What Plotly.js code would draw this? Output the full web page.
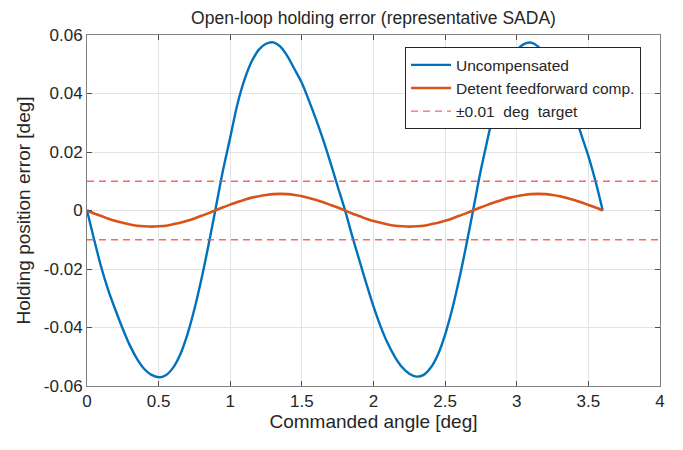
<!DOCTYPE html>
<html>
<head>
<meta charset="utf-8">
<script src="https://cdn.plot.ly/plotly-3.0.1.min.js"></script>
<style>
  html, body { margin: 0; padding: 0; background: #fff; }
  #chart { width: 683px; height: 450px; }
</style>
</head>
<body>
<div id="chart"></div>
<script>
// commanded angle samples [deg]
const angle = [
  0, 0.05, 0.1, 0.15, 0.2, 0.25, 0.3, 0.35, 0.4, 0.45,
  0.5, 0.55, 0.6, 0.65, 0.7, 0.75, 0.8, 0.85, 0.9, 0.95,
  1.0, 1.05, 1.1, 1.15, 1.2, 1.25, 1.3, 1.35, 1.4, 1.45,
  1.5, 1.55, 1.6, 1.65, 1.7, 1.75, 1.8, 1.85, 1.9, 1.95,
  2.0, 2.05, 2.1, 2.15, 2.2, 2.25, 2.3, 2.35, 2.4, 2.45,
  2.5, 2.55, 2.6, 2.65, 2.7, 2.75, 2.8, 2.85, 2.9, 2.95,
  3.0, 3.05, 3.1, 3.15, 3.2, 3.25, 3.3, 3.35, 3.4, 3.45,
  3.5, 3.55, 3.6
];

// holding error without compensation [deg]
const uncompensated = [
  0, -0.0100, -0.0195, -0.0275, -0.0342, -0.0405, -0.0462, -0.0508, -0.0542, -0.0562,
  -0.0570, -0.0563, -0.0538, -0.0493, -0.0425, -0.0337, -0.0232, -0.0114, 0.0012, 0.0139,
  0.0250, 0.0363, 0.0448, 0.0510, 0.0550, 0.0570, 0.0575, 0.0560, 0.0527, 0.0482,
  0.0436, 0.0375, 0.0310, 0.0240, 0.0163, 0.0082, 0.0003, -0.0085, -0.0168, -0.0250,
  -0.0328, -0.0397, -0.0455, -0.0501, -0.0536, -0.0558, -0.0568, -0.0562, -0.0537, -0.0492,
  -0.0424, -0.0336, -0.0231, -0.0113, 0.0013, 0.0140, 0.0252, 0.0362, 0.0448, 0.0510,
  0.0549, 0.0569, 0.0574, 0.0560, 0.0530, 0.0487, 0.0436, 0.0388, 0.0334, 0.0260,
  0.0186, 0.0100, 0
];

// holding error with detent feedforward [deg]
const compensated = [
  0, -0.0010, -0.0019, -0.0028, -0.0036, -0.0042, -0.0048, -0.0052, -0.0054, -0.0055,
  -0.0054, -0.0052, -0.0047, -0.0042, -0.0035, -0.0027, -0.0018, -0.0009, 0.0001, 0.0011,
  0.0020, 0.0029, 0.0037, 0.0044, 0.0049, 0.0053, 0.0056, 0.0057, 0.0056, 0.0053,
  0.0049, 0.0043, 0.0036, 0.0028, 0.0019, 0.0010, 0.0000, -0.0010, -0.0019, -0.0028,
  -0.0036, -0.0042, -0.0048, -0.0052, -0.0054, -0.0055, -0.0054, -0.0052, -0.0047, -0.0042,
  -0.0035, -0.0027, -0.0018, -0.0009, 0.0001, 0.0011, 0.0020, 0.0029, 0.0037, 0.0044,
  0.0049, 0.0053, 0.0056, 0.0057, 0.0056, 0.0053, 0.0049, 0.0043, 0.0036, 0.0028,
  0.0019, 0.0010, 0.0000
];

// +/- target band
const targetSpan = [0, 4];
const targetLevel = 0.01;

const xTicks = [0, 0.5, 1, 1.5, 2, 2.5, 3, 3.5, 4];
const xTickText = ['0', '0.5', '1', '1.5', '2', '2.5', '3', '3.5', '4'];
const yTicks = [-0.06, -0.04, -0.02, 0, 0.02, 0.04, 0.06];
const yTickText = ['-0.06', '-0.04', '-0.02', '0', '0.02', '0.04', '0.06'];

const font = 'Arial, "Liberation Sans", sans-serif';
const ink = '#262626';

const traces = [
  {
    x: angle, y: uncompensated, mode: 'lines', name: 'Uncompensated',
    line: { color: '#0072BD', width: 2.4, shape: 'spline', smoothing: 0.8 }
  },
  {
    x: angle, y: compensated, mode: 'lines', name: 'Detent feedforward comp.',
    line: { color: '#D95319', width: 2.6, shape: 'spline', smoothing: 0.8 }
  },
  {
    x: [targetSpan[0], targetSpan[1], null, targetSpan[0], targetSpan[1]],
    y: [targetLevel, targetLevel, null, -targetLevel, -targetLevel],
    mode: 'lines', name: '±0.01\u00a0\u00a0deg\u00a0\u00a0target',
    line: { color: 'rgba(255,70,70,0.85)', width: 1.4, dash: '7px,5px' }
  }
];

const axisCommon = {
  showgrid: true, gridcolor: '#e3e3e3', gridwidth: 1,
  zeroline: false,
  showline: true, linecolor: '#808080', linewidth: 1, mirror: 'ticks',
  ticks: 'inside', ticklen: 5, tickcolor: '#4d4d4d',
  tickfont: { family: font, size: 17, color: ink }
};

const layout = {
  width: 683, height: 450,
  margin: { l: 87, r: 23, t: 35, b: 64 },
  paper_bgcolor: '#fff', plot_bgcolor: '#fff',
  font: { family: font, color: ink },
  title: {
    text: 'Open-loop holding error (representative SADA)',
    font: { family: font, size: 17.5, color: ink },
    x: 0.5, xanchor: 'center', xref: 'paper', y: 0.96, yanchor: 'middle'
  },
  xaxis: Object.assign({}, axisCommon, {
    range: [0, 4], tickvals: xTicks, ticktext: xTickText,
    title: { text: 'Commanded angle [deg]', font: { family: font, size: 19, color: ink }, standoff: 4 }
  }),
  yaxis: Object.assign({}, axisCommon, {
    range: [-0.06, 0.06], tickvals: yTicks, ticktext: yTickText,
    title: { text: 'Holding position error [deg]', font: { family: font, size: 19, color: ink }, standoff: 8 }
  }),
  showlegend: true,
  legend: {
    x: 0.555, y: 0.965, xanchor: 'left', yanchor: 'top',
    bgcolor: '#fff', bordercolor: '#262626', borderwidth: 1,
    font: { family: font, size: 15.5, color: ink },
    tracegroupgap: 0, itemwidth: 40
  }
};

Plotly.newPlot('chart', traces, layout, { staticPlot: true, displayModeBar: false });
</script>
</body>
</html>
